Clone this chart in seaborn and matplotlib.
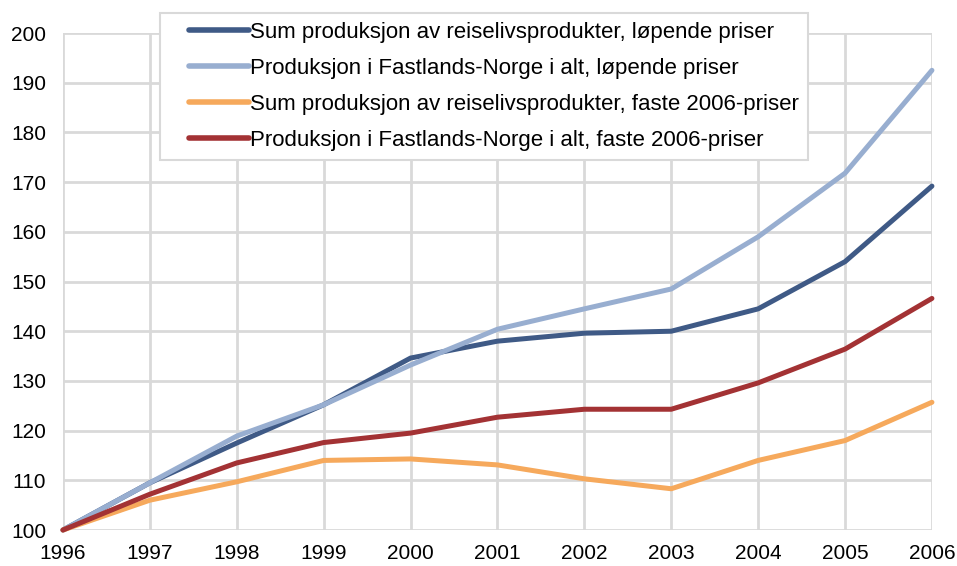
import pandas as pd
import matplotlib.pyplot as plt
import seaborn as sns
from matplotlib.lines import Line2D
from matplotlib.legend_handler import HandlerLine2D

sns.set_style("white")
plt.rcParams['font.family'] = ['Liberation Sans', 'DejaVu Sans']

years = list(range(1996, 2007))
sum_lopende = [100, 109.5, 117.5, 125.2, 134.6, 138.0, 139.6, 140.0, 144.5, 154.0, 169.2]
fastland_lopende = [100, 109.5, 118.9, 125.2, 133.2, 140.4, 144.5, 148.5, 159.0, 171.8, 192.5]
sum_faste = [100, 106.0, 109.7, 114.0, 114.3, 113.1, 110.3, 108.3, 114.0, 118.0, 125.7]
fastland_faste = [100, 107.2, 113.5, 117.6, 119.5, 122.7, 124.3, 124.3, 129.6, 136.4, 146.6]

labels = [
    "Sum produksjon av reiselivsprodukter, løpende priser",
    "Produksjon i Fastlands-Norge i alt, løpende priser",
    "Sum produksjon av reiselivsprodukter, faste 2006-priser",
    "Produksjon i Fastlands-Norge i alt, faste 2006-priser",
]
colors = ["#3f5a86", "#98aed0", "#f6a95c", "#a33234"]

series = [sum_lopende, fastland_lopende, sum_faste, fastland_faste]
df = pd.concat([pd.DataFrame({"År": years, "Indeks": vals, "Serie": lab})
                for lab, vals in zip(labels, series)])

fig = plt.figure(figsize=(9.57, 5.66), dpi=100)
ax = fig.add_axes([0.0658, 0.0636, 0.908, 0.878])

sns.lineplot(data=df, x="År", y="Indeks", hue="Serie", hue_order=labels,
             palette=colors, linewidth=3.6, ax=ax, clip_on=False)

ax.set_xlim(1996, 2006)
ax.set_ylim(100, 200)
ax.set_xticks(years)
ax.set_yticks(range(100, 201, 10))
ax.set_xlabel("")
ax.set_ylabel("")
ax.grid(True, color="#d9d9d9", linewidth=2)
ax.set_axisbelow(True)
for s in ax.spines.values():
    s.set_visible(False)
ax.tick_params(axis='both', length=0, labelsize=15, labelcolor="black")
ax.tick_params(axis='x', pad=10)
ax.tick_params(axis='y', pad=12)

# extra left padding inside the legend box via the handle
leg = ax.legend(loc="upper left", bbox_to_anchor=(160 / 957, 1 - 13 / 566),
                bbox_transform=fig.transFigure, fontsize=16, frameon=True,
                fancybox=False, edgecolor="#d9d9d9", framealpha=1,
                handlelength=3.6, handletextpad=0.05, labelspacing=0.68,
                borderpad=0.4, borderaxespad=0,
                handler_map={Line2D: HandlerLine2D(xpad=0.9)})
leg.get_frame().set_linewidth(1.5)
for line in leg.get_lines():
    line.set_linewidth(4)
for t in leg.get_texts():
    t.set_color("black")

fig.savefig("out.png", dpi=100)
